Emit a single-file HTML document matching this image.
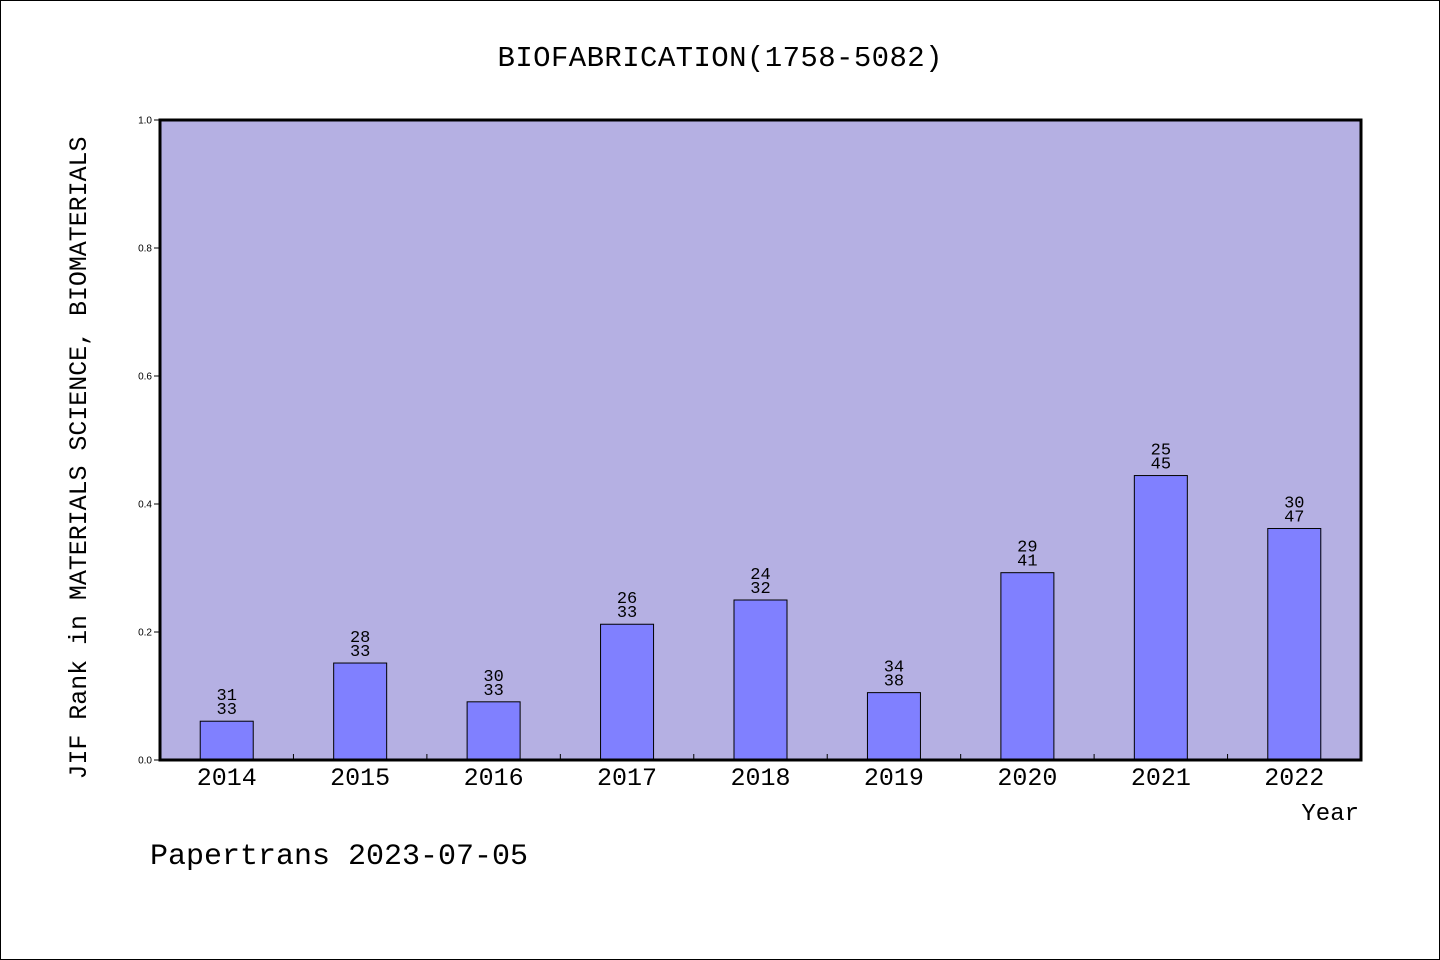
<!DOCTYPE html>
<html><head><meta charset="utf-8"><style>
html,body{margin:0;padding:0;background:#fff}
svg{display:block}
text{font-family:"Liberation Mono","DejaVu Sans Mono",monospace;fill:#000}
text.sans{font-family:"Liberation Sans","DejaVu Sans",sans-serif}
</style></head><body>
<svg width="1440" height="960" viewBox="0 0 1440 960">
<rect x="0.5" y="0.5" width="1439" height="959" fill="#fff" stroke="#000"/>
<text x="720" y="66" font-size="29" text-anchor="middle" textLength="445">BIOFABRICATION(1758-5082)</text>
<rect x="160" y="120" width="1201" height="640" fill="#b5b0e3"/>
<g id="bars"></g>
<rect x="160" y="120" width="1201" height="640" fill="none" stroke="#000" stroke-width="3"/>
<g id="axes"></g>
<text x="86" y="458" font-size="25" text-anchor="middle" textLength="643" transform="rotate(-90 86 458)">JIF Rank in MATERIALS SCIENCE, BIOMATERIALS</text>
<text x="1359" y="820" font-size="24" text-anchor="end">Year</text>
<text x="150" y="864" font-size="30">Papertrans 2023-07-05</text>
</svg>
<script>
const years=["2014","2015","2016","2017","2018","2019","2020","2021","2022"];
const ranks=[31,28,30,26,24,34,29,25,30];
const totals=[33,33,33,33,32,38,41,45,47];
const yTicks=[0,0.2,0.4,0.6,0.8,1.0];
const NS="http://www.w3.org/2000/svg";
const x0=160,x1=1361,y0=760,y1=120;
const band=(x1-x0)/years.length;
function xc(i){return x0+band*(i+0.5);}
function ys(v){return y0-(v)*(y0-y1);}
function mk(tag,a,p){const e=document.createElementNS(NS,tag);for(const k in a)e.setAttribute(k,a[k]);p.appendChild(e);return e;}
const bars=document.getElementById('bars'),axes=document.getElementById('axes');
years.forEach((y,i)=>{
  const v=(totals[i]-ranks[i])/totals[i];
  const top=ys(v);
  const r=mk('rect',{x:xc(i)-26.5,y:top,width:53,height:y0-top,fill:'#8080ff',stroke:'#000','stroke-width':1},bars);
  
  
  const t1=mk('text',{x:xc(i),y:top-21,'font-size':17,'text-anchor':'middle'},bars);
  t1.textContent=ranks[i];
  
  
  const t2=mk('text',{x:xc(i),y:top-7,'font-size':17,'text-anchor':'middle'},bars);
  t2.textContent=totals[i];
  
  
  const xl=mk('text',{x:xc(i),y:785,'font-size':25,'text-anchor':'middle'},axes);
  xl.textContent=y;
  
  
  if(i>0){
    const tk=mk('line',{x1:x0+band*i,x2:x0+band*i,y1:y0,y2:y0-6,stroke:'#000','stroke-width':1},axes);
    
    
  }
});
yTicks.forEach(v=>{
  const y=ys(v);
  const l=mk('line',{x1:x0-6,x2:x0,y1:y,y2:y,stroke:'#000','stroke-width':1},axes);
  
  
  const t=mk('text',{x:152,y:y+3.5,'font-size':10,'text-anchor':'end','class':'sans'},axes);
  t.textContent=v.toFixed(1);
  
  
});
</script>
</body></html>
